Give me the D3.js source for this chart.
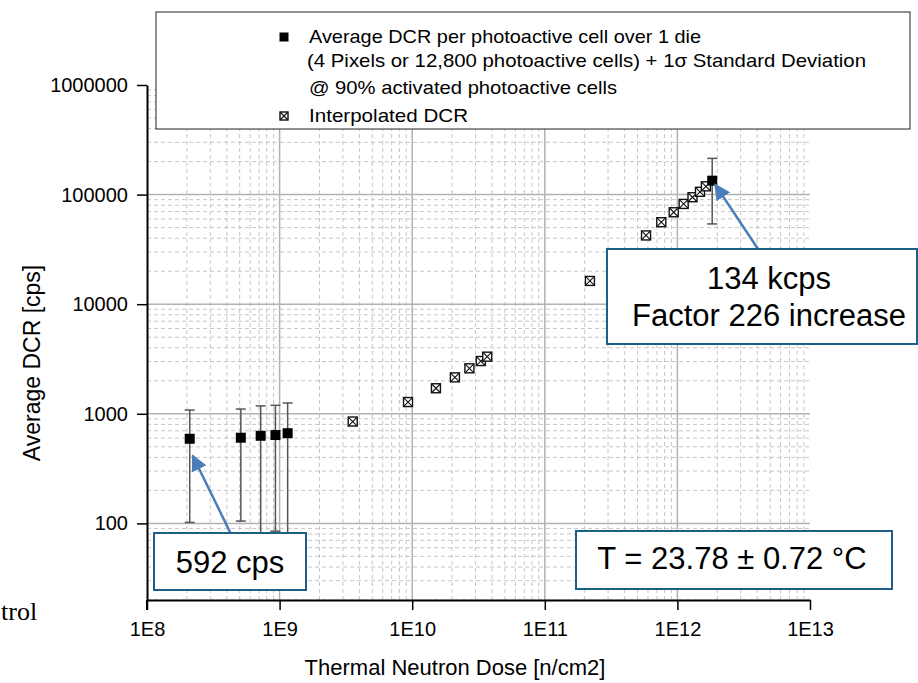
<!DOCTYPE html>
<html><head><meta charset="utf-8">
<script src="https://cdn.jsdelivr.net/npm/d3@7/dist/d3.min.js"></script>
<style>body{margin:0;background:#fff}svg{display:block}</style>
</head><body>
<svg id="c" width="918" height="683"></svg>
<script>
// ---- data ----
const measuredDose = [2.1e8, 5.1e8, 7.2e8, 9.3e8, 1.15e9, 1.83e12];
const measuredDCR  = [592, 605, 630, 640, 665, 134000];
const measuredSD   = [490, 500, 550, 555, 590, 80000];
const interpDose = [3.56e9, 9.3e9, 1.51e10, 2.1e10, 2.7e10, 3.29e10, 3.68e10,
                    2.19e11, 5.8e11, 7.56e11, 9.38e11, 1.115e12, 1.30e12, 1.48e12, 1.64e12];
const interpDCR  = [850, 1280, 1710, 2150, 2600, 3030, 3320,
                    16300, 42400, 56000, 69000, 82200, 94600, 106000, 119000];
const xTicks = [1e8, 1e9, 1e10, 1e11, 1e12, 1e13];
const xTickLabels = ["1E8", "1E9", "1E10", "1E11", "1E12", "1E13"];
const yTicks = [100, 1000, 10000, 100000, 1000000];
const yTickLabels = ["100", "1000", "10000", "100000", "1000000"];
const legendLines = ["Average DCR per photoactive cell over 1 die",
  "(4 Pixels or 12,800 photoactive cells)  + 1\u03c3 Standard Deviation",
  "@ 90% activated photoactive cells",
  "Interpolated DCR"];

// ---- layout ----
const L = 147, R = 810, T = 85, B = 600;
const FONT = "'Liberation Sans', Arial, sans-serif";
const svg = d3.select("#c");
svg.append("rect").attr("width", 918).attr("height", 683).attr("fill", "#fff");
const x = d3.scaleLog().domain([1e8, 1e13]).range([L, R]);
const y = d3.scaleLog().domain([20, 1e6]).range([B, T]);

function minors(lo, hi) {
  const out = [];
  for (let e = Math.floor(Math.log10(lo)); e <= Math.ceil(Math.log10(hi)); e++) {
    for (let m = 2; m <= 9; m++) { const v = m * Math.pow(10, e); if (v >= lo && v <= hi) out.push(v); }
  }
  return out;
}
const xMinor = minors(1e8, 1e13), yMinor = minors(20, 1e6);

// grid
const g = svg.append("g");
g.selectAll(".vm").data(xMinor).join("line")
  .attr("x1", d => x(d)).attr("x2", d => x(d)).attr("y1", T).attr("y2", B)
  .attr("stroke", "#c6c6c6").attr("stroke-dasharray", "4,3").attr("stroke-width", 1);
g.selectAll(".hm").data(yMinor).join("line")
  .attr("y1", d => y(d)).attr("y2", d => y(d)).attr("x1", L).attr("x2", R)
  .attr("stroke", "#c6c6c6").attr("stroke-dasharray", "4,3").attr("stroke-width", 1);
g.selectAll(".vM").data(xTicks.slice(1, -1)).join("line")
  .attr("x1", d => x(d)).attr("x2", d => x(d)).attr("y1", T).attr("y2", B)
  .attr("stroke", "#b2b2b2").attr("stroke-width", 1.5);
g.selectAll(".hM").data(yTicks.slice(0, -1)).join("line")
  .attr("y1", d => y(d)).attr("y2", d => y(d)).attr("x1", L).attr("x2", R)
  .attr("stroke", "#b2b2b2").attr("stroke-width", 1.5);

// axes
const xa = svg.append("g").attr("transform", `translate(0,${B})`);
xa.call(d3.axisBottom(x).tickValues(xMinor).tickSize(5).tickSizeOuter(0).tickFormat(""));
xa.call(d3.axisBottom(x).tickValues(xTicks).tickSize(10).tickSizeOuter(0)
  .tickFormat((d, i) => xTickLabels[i]));
xa.selectAll("path").attr("stroke", "#000").attr("stroke-width", 2);
xa.selectAll("line").attr("stroke", "#000").attr("stroke-width", 1.5);
xa.selectAll("text").attr("font-family", FONT).attr("font-size", 20).attr("fill", "#000")
  .attr("y", 36).attr("dy", null);

const ya = svg.append("g").attr("transform", `translate(${L},0)`);
ya.call(d3.axisLeft(y).tickValues(yMinor).tickSize(5).tickSizeOuter(0).tickFormat(""));
ya.call(d3.axisLeft(y).tickValues(yTicks).tickSize(10).tickSizeOuter(0)
  .tickFormat((d, i) => yTickLabels[i]));
ya.selectAll("path").attr("stroke", "#000").attr("stroke-width", 2);
ya.selectAll("line").attr("stroke", "#000").attr("stroke-width", 1.5);
ya.selectAll("text").attr("font-family", FONT).attr("font-size", 20).attr("fill", "#000")
  .attr("x", -19);
// extend y axis line below x axis to the 1E8 tick
svg.append("line").attr("x1", L).attr("x2", L).attr("y1", B).attr("y2", B + 10)
  .attr("stroke", "#000").attr("stroke-width", 2);

// axis titles
svg.append("text").attr("x", 455).attr("y", 675).attr("text-anchor", "middle")
  .attr("font-family", FONT).attr("font-size", 22).text("Thermal Neutron Dose [n/cm2]");
svg.append("text").attr("transform", "translate(40,363) rotate(-90)").attr("text-anchor", "middle")
  .attr("font-family", FONT).attr("font-size", 23).text("Average DCR [cps]");
svg.append("text").attr("x", 1).attr("y", 620).attr("font-family", "'Liberation Serif', 'Times New Roman', serif")
  .attr("font-size", 26).text("trol");

// interpolated markers
function interpMarker(sel, cx, cy, s) {
  const h = s / 2;
  const gg = sel.append("g").attr("transform", `translate(${cx},${cy})`);
  gg.append("rect").attr("x", -h).attr("y", -h).attr("width", s).attr("height", s)
    .attr("fill", "#fff").attr("stroke", "#111").attr("stroke-width", 1.4);
  gg.append("path").attr("d", `M${-h},${-h}L${h},${h}M${h},${-h}L${-h},${h}`)
    .attr("stroke", "#111").attr("stroke-width", 1.1);
}
const ip = svg.append("g");
interpDose.forEach((d, i) => interpMarker(ip, x(d), y(interpDCR[i]), 9));

// measured with error bars
const mp = svg.append("g");
measuredDose.forEach((d, i) => {
  const cx = x(d), v = measuredDCR[i], s = measuredSD[i];
  const yt = y(v + s), yb = y(Math.max(v - s, 20));
  mp.append("line").attr("x1", cx).attr("x2", cx).attr("y1", yt).attr("y2", yb)
    .attr("stroke", "#555").attr("stroke-width", 1.5);
  [yt, yb].forEach(yy => mp.append("line").attr("x1", cx - 5).attr("x2", cx + 5)
    .attr("y1", yy).attr("y2", yy).attr("stroke", "#555").attr("stroke-width", 1.5));
  mp.append("rect").attr("x", cx - 5).attr("y", y(v) - 5).attr("width", 10).attr("height", 10)
    .attr("fill", "#000");
});

// legend
const lg = svg.append("g");
lg.append("rect").attr("x", 156).attr("y", 12).attr("width", 754).attr("height", 117)
  .attr("fill", "#fff").attr("stroke", "#222").attr("stroke-width", 1);
lg.append("rect").attr("x", 279.5).attr("y", 32.5).attr("width", 9).attr("height", 9).attr("fill", "#000");
interpMarker(lg, 284, 116, 8);
const lx = [309, 307, 309, 309], ly = [43, 67, 94, 122], lw = [392, 559, 308, 159];
legendLines.forEach((t, i) => lg.append("text").attr("x", lx[i]).attr("y", ly[i])
  .attr("font-family", FONT).attr("font-size", 19)
  .attr("textLength", lw[i]).attr("lengthAdjust", "spacingAndGlyphs").text(t));

// annotations
const defs = svg.append("defs");
defs.append("marker").attr("id", "ah").attr("viewBox", "0 0 10 10").attr("refX", 9).attr("refY", 5)
  .attr("markerWidth", 6.5).attr("markerHeight", 6.5).attr("orient", "auto")
  .attr("markerUnits", "strokeWidth")
  .append("path").attr("d", "M0,0L10,5L0,10z").attr("fill", "#4a7ebb");
const ARROW = "#4a7ebb", BOX = "#1d5f86";
const an = svg.append("g");
// 592 cps
const p0x = x(measuredDose[0]), p0y = y(measuredDCR[0]);
an.append("line").attr("x1", 230.5).attr("y1", 533).attr("x2", p0x + 3).attr("y2", p0y + 17)
  .attr("stroke", ARROW).attr("stroke-width", 2.5).attr("marker-end", "url(#ah)");
an.append("rect").attr("x", 154).attr("y", 533).attr("width", 152).attr("height", 57)
  .attr("fill", "#fff").attr("stroke", BOX).attr("stroke-width", 2);
an.append("text").attr("x", 230).attr("y", 573).attr("text-anchor", "middle")
  .attr("font-family", FONT).attr("font-size", 31).text(measuredDCR[0] + " cps");
// 134 kcps
const p5x = x(measuredDose[5]), p5y = y(measuredDCR[5]);
an.append("line").attr("x1", 758).attr("y1", 249).attr("x2", p5x + 3).attr("y2", p5y + 4)
  .attr("stroke", ARROW).attr("stroke-width", 2.5).attr("marker-end", "url(#ah)");
an.append("rect").attr("x", 607).attr("y", 249).attr("width", 310).attr("height", 95)
  .attr("fill", "#fff").attr("stroke", BOX).attr("stroke-width", 2);
an.append("text").attr("x", 769).attr("y", 289).attr("text-anchor", "middle")
  .attr("font-family", FONT).attr("font-size", 31).text("134 kcps");
an.append("text").attr("x", 769).attr("y", 326).attr("text-anchor", "middle")
  .attr("font-family", FONT).attr("font-size", 31).text("Factor 226 increase");
// temperature
an.append("rect").attr("x", 576).attr("y", 531).attr("width", 316).attr("height", 58)
  .attr("fill", "#fff").attr("stroke", BOX).attr("stroke-width", 2);
an.append("text").attr("x", 732).attr("y", 569).attr("text-anchor", "middle")
  .attr("font-family", FONT).attr("font-size", 31).text("T = 23.78 \u00b1 0.72 \u00b0C");
</script>
</body></html>
